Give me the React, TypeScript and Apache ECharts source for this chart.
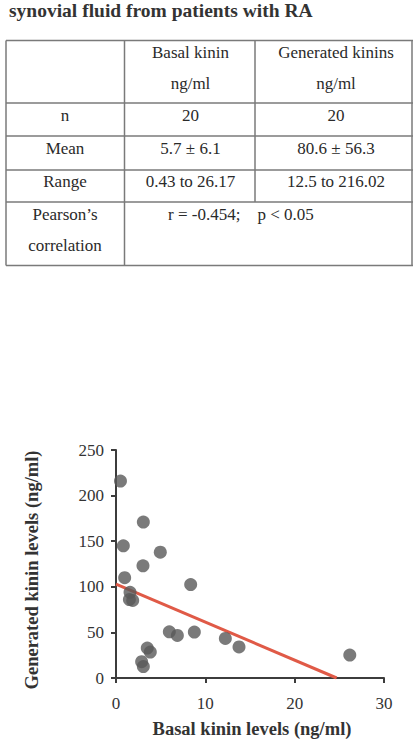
import React, { useEffect, useRef } from "react";
import * as echarts from "echarts";

const titleText = "synovial fluid from patients with RA";
const headerBasal = ["Basal kinin", "ng/ml"];
const headerGenerated = ["Generated kinins", "ng/ml"];
const rowLabels = ["n", "Mean", "Range"];
const basalStats = ["20", "5.7 ± 6.1", "0.43 to 26.17"];
const generatedStats = ["20", "80.6 ± 56.3", "12.5 to 216.02"];
const correlationLabel = ["Pearson’s", "correlation"];
const correlationText = "r = -0.454;    p < 0.05";

const basalKinin = [0.5, 0.82, 0.97, 1.57, 1.5, 1.87, 3.06, 3.02, 4.96, 8.36, 5.97, 6.87, 8.77, 12.24, 13.77, 3.5, 3.84, 2.87, 3.06, 26.17];
const generatedKinin = [216, 145, 110, 94, 86, 85, 171, 123, 138, 102.5, 50.7, 46.7, 50.4, 43.4, 34, 32.8, 28.5, 17.9, 12.5, 25.2];
const regressionX = [0, 24.7];
const regressionY = [103, 0];

const xTitle = "Basal kinin levels (ng/ml)";
const yTitle = "Generated kinin levels (ng/ml)";

const SERIF = '"Liberation Serif", "Times New Roman", serif';

export default function App() {
  const ref = useRef<HTMLDivElement>(null);
  useEffect(() => {
    if (!ref.current) return;
    const chart = echarts.init(ref.current, null, { renderer: "svg" });

    const lineColor = "#7a7a7a";
    const colX = [6, 124.5, 255, 413];
    const rowY = [40.5, 103, 136, 170, 202, 265.5];
    const g: any[] = [];
    const hline = (x1: number, x2: number, y: number) =>
      g.push({ type: "line", shape: { x1, y1: y, x2, y2: y }, style: { stroke: lineColor, lineWidth: 1.5 } });
    const vline = (x: number, y1: number, y2: number) =>
      g.push({ type: "line", shape: { x1: x, y1, x2: x, y2 }, style: { stroke: lineColor, lineWidth: 1.5 } });
    rowY.forEach((y) => hline(colX[0], colX[3], y));
    vline(colX[0], rowY[0], rowY[5]);
    vline(colX[1], rowY[0], rowY[5]);
    vline(colX[2], rowY[0], rowY[4]);
    vline(412, rowY[0], rowY[5]);

    const txt = (text: string, x: number, y: number, align = "center", opts: any = {}) =>
      g.push({
        type: "text",
        x,
        y,
        style: {
          text,
          fill: opts.fill || "#2a2a2a",
          font: opts.font || `17px ${SERIF}`,
          align,
          verticalAlign: "middle",
        },
      });

    txt(titleText, 9, 10, "left", { font: `bold 19.5px ${SERIF}`, fill: "#333" });
    const c2 = 190.5;
    const c3 = 336;
    const c1 = 65;
    txt(headerBasal[0], c2, 52);
    txt(headerBasal[1], c2, 83);
    txt(headerGenerated[0], c3, 52);
    txt(headerGenerated[1], c3, 83);
    const rowCenters = [115, 148.5, 181.5];
    rowLabels.forEach((l, i) => {
      txt(l, c1, rowCenters[i]);
      txt(basalStats[i], c2, rowCenters[i]);
      txt(generatedStats[i], c3, rowCenters[i]);
    });
    txt(correlationLabel[0], c1, 214);
    txt(correlationLabel[1], c1, 245);
    txt(correlationText, 168, 214, "left");

    g.push({
      type: "text",
      x: 32,
      y: 570,
      rotation: Math.PI / 2,
      style: { text: yTitle, font: `bold 18.5px ${SERIF}`, fill: "#333", align: "center", verticalAlign: "middle" },
    });
    g.push({
      type: "text",
      x: 252,
      y: 729,
      style: { text: xTitle, font: `bold 18.5px ${SERIF}`, fill: "#333", align: "center", verticalAlign: "middle" },
    });

    const axisColor = "#3c3c3c";
    chart.setOption({
      animation: false,
      backgroundColor: "#fff",
      grid: { left: 116, right: 29, top: 450, bottom: 62 },
      xAxis: {
        type: "value",
        min: 0,
        max: 30,
        interval: 10,
        splitLine: { show: false },
        axisLine: { lineStyle: { color: axisColor, width: 2 } },
        axisTick: { length: 5, lineStyle: { color: axisColor, width: 2 } },
        axisLabel: { fontSize: 17, color: "#333", fontFamily: SERIF, margin: 17 },
      },
      yAxis: {
        type: "value",
        min: 0,
        max: 250,
        interval: 50,
        splitLine: { show: false },
        axisLine: { show: true, lineStyle: { color: axisColor, width: 2 } },
        axisTick: { show: true, length: 5, lineStyle: { color: axisColor, width: 2 } },
        axisLabel: { fontSize: 17, color: "#333", fontFamily: SERIF, margin: 12 },
      },
      series: [
        {
          type: "line",
          data: regressionX.map((x, i) => [x, regressionY[i]]),
          showSymbol: false,
          symbol: "none",
          lineStyle: { color: "#e05a47", width: 3 },
          z: 2,
        },
        {
          type: "scatter",
          data: basalKinin.map((x, i) => [x, generatedKinin[i]]),
          symbol: "circle",
          symbolSize: 13,
          itemStyle: { color: "#595959" },
          z: 3,
        },
      ],
      graphic: g,
    });
    return () => chart.dispose();
  }, []);
  return <div ref={ref} style={{ position: "fixed", left: 0, top: 0, width: 413, height: 740 }} />;
}
